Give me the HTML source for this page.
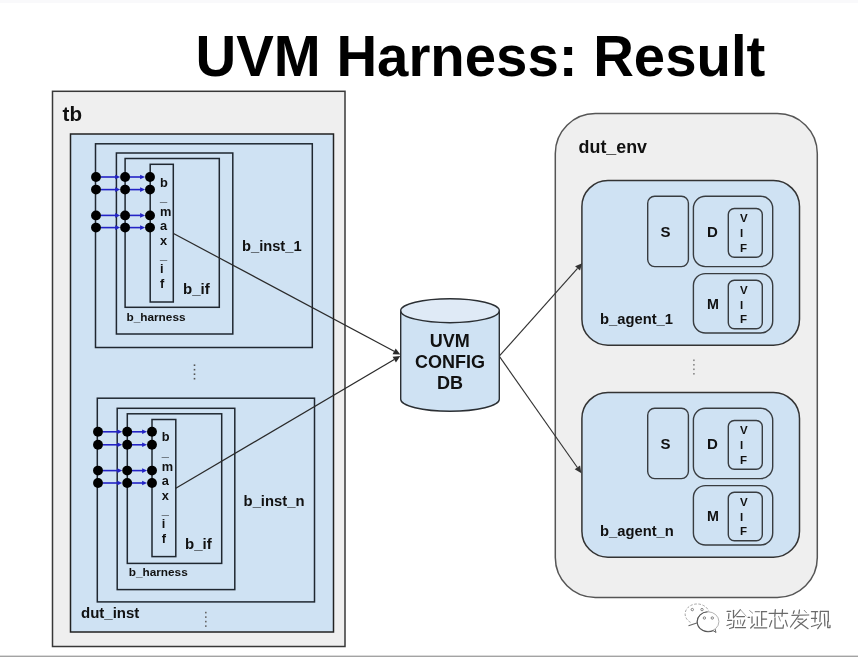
<!DOCTYPE html>
<html><head><meta charset="utf-8"><style>
html,body{margin:0;padding:0;background:#fff;}
body{width:858px;height:657px;overflow:hidden;position:relative;}
svg{position:absolute;left:0;top:0;will-change:transform;}
text{font-family:"Liberation Sans",sans-serif;}
</style></head><body>
<svg width="858" height="657" viewBox="0 0 858 657">
<rect x="0" y="0" width="858" height="3" fill="#f9f9fb"/>
<rect x="0" y="655.6" width="858" height="1.4" fill="#a3a3a3"/>
<text transform="translate(195.6,75.6) scale(1.0027,1.028)" x="0" y="0" font-size="56.2" font-weight="bold" fill="#000">UVM Harness: Result</text>
<rect x="52.50" y="91.30" width="292.50" height="555.20" rx="0" fill="#efefef" stroke="#383838" stroke-width="1.5"/>
<text x="62.60" y="121.40" font-size="20.6" text-anchor="start" font-weight="bold" fill="#111" >tb</text>
<rect x="70.50" y="134.00" width="263.00" height="498.00" rx="0" fill="#cfe2f3" stroke="#222" stroke-width="1.5"/>
<rect x="95.50" y="143.80" width="216.80" height="203.70" rx="0" fill="none" stroke="#1f2730" stroke-width="1.5"/>
<rect x="116.40" y="153.00" width="116.40" height="181.00" rx="0" fill="none" stroke="#1f2730" stroke-width="1.5"/>
<rect x="125.10" y="158.50" width="94.20" height="148.80" rx="0" fill="none" stroke="#1f2730" stroke-width="1.5"/>
<rect x="150.20" y="164.30" width="23.10" height="137.70" rx="0" fill="none" stroke="#1f2730" stroke-width="1.5"/>
<line x1="100.50" y1="177.00" x2="117.20" y2="177.00" stroke="#2323c6" stroke-width="1.6"/>
<path d="M120.20 177.00 L115.20 174.70 L115.20 179.30 Z" fill="#2323c6"/>
<line x1="129.60" y1="177.00" x2="142.10" y2="177.00" stroke="#2323c6" stroke-width="1.6"/>
<path d="M145.10 177.00 L140.10 174.70 L140.10 179.30 Z" fill="#2323c6"/>
<circle cx="96.00" cy="177.00" r="4.95" fill="#000"/>
<circle cx="125.10" cy="177.00" r="4.95" fill="#000"/>
<circle cx="150.00" cy="177.00" r="4.95" fill="#000"/>
<line x1="100.50" y1="189.60" x2="117.20" y2="189.60" stroke="#2323c6" stroke-width="1.6"/>
<path d="M120.20 189.60 L115.20 187.30 L115.20 191.90 Z" fill="#2323c6"/>
<line x1="129.60" y1="189.60" x2="142.10" y2="189.60" stroke="#2323c6" stroke-width="1.6"/>
<path d="M145.10 189.60 L140.10 187.30 L140.10 191.90 Z" fill="#2323c6"/>
<circle cx="96.00" cy="189.60" r="4.95" fill="#000"/>
<circle cx="125.10" cy="189.60" r="4.95" fill="#000"/>
<circle cx="150.00" cy="189.60" r="4.95" fill="#000"/>
<line x1="100.50" y1="215.40" x2="117.20" y2="215.40" stroke="#2323c6" stroke-width="1.6"/>
<path d="M120.20 215.40 L115.20 213.10 L115.20 217.70 Z" fill="#2323c6"/>
<line x1="129.60" y1="215.40" x2="142.10" y2="215.40" stroke="#2323c6" stroke-width="1.6"/>
<path d="M145.10 215.40 L140.10 213.10 L140.10 217.70 Z" fill="#2323c6"/>
<circle cx="96.00" cy="215.40" r="4.95" fill="#000"/>
<circle cx="125.10" cy="215.40" r="4.95" fill="#000"/>
<circle cx="150.00" cy="215.40" r="4.95" fill="#000"/>
<line x1="100.50" y1="227.60" x2="117.20" y2="227.60" stroke="#2323c6" stroke-width="1.6"/>
<path d="M120.20 227.60 L115.20 225.30 L115.20 229.90 Z" fill="#2323c6"/>
<line x1="129.60" y1="227.60" x2="142.10" y2="227.60" stroke="#2323c6" stroke-width="1.6"/>
<path d="M145.10 227.60 L140.10 225.30 L140.10 229.90 Z" fill="#2323c6"/>
<circle cx="96.00" cy="227.60" r="4.95" fill="#000"/>
<circle cx="125.10" cy="227.60" r="4.95" fill="#000"/>
<circle cx="150.00" cy="227.60" r="4.95" fill="#000"/>
<text x="159.90" y="186.50" font-size="12.8" text-anchor="start" font-weight="bold" fill="#111" >b</text>
<text x="159.90" y="200.80" font-size="12.8" text-anchor="start" font-weight="bold" fill="#111" >_</text>
<text x="159.90" y="215.70" font-size="12.8" text-anchor="start" font-weight="bold" fill="#111" >m</text>
<text x="159.90" y="230.20" font-size="12.8" text-anchor="start" font-weight="bold" fill="#111" >a</text>
<text x="159.90" y="244.70" font-size="12.8" text-anchor="start" font-weight="bold" fill="#111" >x</text>
<text x="159.90" y="259.30" font-size="12.8" text-anchor="start" font-weight="bold" fill="#111" >_</text>
<text x="159.90" y="272.80" font-size="12.8" text-anchor="start" font-weight="bold" fill="#111" >i</text>
<text x="159.90" y="287.80" font-size="12.8" text-anchor="start" font-weight="bold" fill="#111" >f</text>
<text x="183.00" y="293.50" font-size="15" text-anchor="start" font-weight="bold" fill="#111" >b_if</text>
<text x="126.50" y="321.00" font-size="11.8" text-anchor="start" font-weight="bold" fill="#111" >b_harness</text>
<rect x="97.30" y="398.20" width="217.20" height="203.70" rx="0" fill="none" stroke="#1f2730" stroke-width="1.5"/>
<rect x="117.20" y="408.30" width="117.60" height="181.30" rx="0" fill="none" stroke="#1f2730" stroke-width="1.5"/>
<rect x="127.30" y="413.80" width="94.40" height="149.60" rx="0" fill="none" stroke="#1f2730" stroke-width="1.5"/>
<rect x="152.00" y="419.50" width="23.80" height="137.10" rx="0" fill="none" stroke="#1f2730" stroke-width="1.5"/>
<line x1="102.50" y1="431.80" x2="119.30" y2="431.80" stroke="#2323c6" stroke-width="1.6"/>
<path d="M122.30 431.80 L117.30 429.50 L117.30 434.10 Z" fill="#2323c6"/>
<line x1="131.70" y1="431.80" x2="144.10" y2="431.80" stroke="#2323c6" stroke-width="1.6"/>
<path d="M147.10 431.80 L142.10 429.50 L142.10 434.10 Z" fill="#2323c6"/>
<circle cx="98.00" cy="431.80" r="4.95" fill="#000"/>
<circle cx="127.20" cy="431.80" r="4.95" fill="#000"/>
<circle cx="152.00" cy="431.80" r="4.95" fill="#000"/>
<line x1="102.50" y1="444.80" x2="119.30" y2="444.80" stroke="#2323c6" stroke-width="1.6"/>
<path d="M122.30 444.80 L117.30 442.50 L117.30 447.10 Z" fill="#2323c6"/>
<line x1="131.70" y1="444.80" x2="144.10" y2="444.80" stroke="#2323c6" stroke-width="1.6"/>
<path d="M147.10 444.80 L142.10 442.50 L142.10 447.10 Z" fill="#2323c6"/>
<circle cx="98.00" cy="444.80" r="4.95" fill="#000"/>
<circle cx="127.20" cy="444.80" r="4.95" fill="#000"/>
<circle cx="152.00" cy="444.80" r="4.95" fill="#000"/>
<line x1="102.50" y1="470.60" x2="119.30" y2="470.60" stroke="#2323c6" stroke-width="1.6"/>
<path d="M122.30 470.60 L117.30 468.30 L117.30 472.90 Z" fill="#2323c6"/>
<line x1="131.70" y1="470.60" x2="144.10" y2="470.60" stroke="#2323c6" stroke-width="1.6"/>
<path d="M147.10 470.60 L142.10 468.30 L142.10 472.90 Z" fill="#2323c6"/>
<circle cx="98.00" cy="470.60" r="4.95" fill="#000"/>
<circle cx="127.20" cy="470.60" r="4.95" fill="#000"/>
<circle cx="152.00" cy="470.60" r="4.95" fill="#000"/>
<line x1="102.50" y1="483.00" x2="119.30" y2="483.00" stroke="#2323c6" stroke-width="1.6"/>
<path d="M122.30 483.00 L117.30 480.70 L117.30 485.30 Z" fill="#2323c6"/>
<line x1="131.70" y1="483.00" x2="144.10" y2="483.00" stroke="#2323c6" stroke-width="1.6"/>
<path d="M147.10 483.00 L142.10 480.70 L142.10 485.30 Z" fill="#2323c6"/>
<circle cx="98.00" cy="483.00" r="4.95" fill="#000"/>
<circle cx="127.20" cy="483.00" r="4.95" fill="#000"/>
<circle cx="152.00" cy="483.00" r="4.95" fill="#000"/>
<text x="161.80" y="441.30" font-size="12.8" text-anchor="start" font-weight="bold" fill="#111" >b</text>
<text x="161.80" y="455.60" font-size="12.8" text-anchor="start" font-weight="bold" fill="#111" >_</text>
<text x="161.80" y="470.50" font-size="12.8" text-anchor="start" font-weight="bold" fill="#111" >m</text>
<text x="161.80" y="485.00" font-size="12.8" text-anchor="start" font-weight="bold" fill="#111" >a</text>
<text x="161.80" y="499.50" font-size="12.8" text-anchor="start" font-weight="bold" fill="#111" >x</text>
<text x="161.80" y="514.10" font-size="12.8" text-anchor="start" font-weight="bold" fill="#111" >_</text>
<text x="161.80" y="527.60" font-size="12.8" text-anchor="start" font-weight="bold" fill="#111" >i</text>
<text x="161.80" y="542.60" font-size="12.8" text-anchor="start" font-weight="bold" fill="#111" >f</text>
<text x="185.00" y="549.20" font-size="15" text-anchor="start" font-weight="bold" fill="#111" >b_if</text>
<text x="128.70" y="576.20" font-size="11.8" text-anchor="start" font-weight="bold" fill="#111" >b_harness</text>
<text x="242.00" y="250.60" font-size="14.7" text-anchor="start" font-weight="bold" fill="#111" >b_inst_1</text>
<text x="243.60" y="505.60" font-size="14.8" text-anchor="start" font-weight="bold" fill="#111" >b_inst_n</text>
<text x="81.00" y="618.20" font-size="15" text-anchor="start" font-weight="bold" fill="#111" >dut_inst</text>
<rect x="193.70" y="364.40" width="1.6" height="1.6" fill="#555"/>
<rect x="193.70" y="368.90" width="1.6" height="1.6" fill="#555"/>
<rect x="193.70" y="373.40" width="1.6" height="1.6" fill="#555"/>
<rect x="193.70" y="377.90" width="1.6" height="1.6" fill="#555"/>
<rect x="205.00" y="611.80" width="1.6" height="1.6" fill="#666"/>
<rect x="205.00" y="616.30" width="1.6" height="1.6" fill="#666"/>
<rect x="205.00" y="620.80" width="1.6" height="1.6" fill="#666"/>
<rect x="205.00" y="625.30" width="1.6" height="1.6" fill="#666"/>
<rect x="555.30" y="113.60" width="262.00" height="483.90" rx="40" fill="#efefef" stroke="#555" stroke-width="1.5"/>
<text x="578.60" y="153.20" font-size="17.85" text-anchor="start" font-weight="bold" fill="#111" >dut_env</text>
<rect x="581.90" y="180.50" width="217.60" height="164.70" rx="26" fill="#cfe2f3" stroke="#333" stroke-width="1.5"/>
<rect x="647.70" y="196.20" width="40.70" height="70.40" rx="7" fill="none" stroke="#383c40" stroke-width="1.4"/>
<rect x="693.40" y="196.20" width="79.30" height="70.40" rx="12" fill="none" stroke="#383c40" stroke-width="1.4"/>
<rect x="728.30" y="208.50" width="34.00" height="48.80" rx="6" fill="none" stroke="#383c40" stroke-width="1.4"/>
<rect x="693.40" y="273.60" width="79.30" height="59.40" rx="12" fill="none" stroke="#383c40" stroke-width="1.4"/>
<rect x="728.30" y="280.30" width="34.00" height="48.40" rx="6" fill="none" stroke="#383c40" stroke-width="1.4"/>
<text x="665.60" y="236.90" font-size="15" text-anchor="middle" font-weight="bold" fill="#111" >S</text>
<text x="712.30" y="236.90" font-size="15" text-anchor="middle" font-weight="bold" fill="#111" >D</text>
<text x="740.00" y="222.30" font-size="11.5" text-anchor="start" font-weight="bold" fill="#111" >V</text>
<text x="740.00" y="236.90" font-size="11.5" text-anchor="start" font-weight="bold" fill="#111" >I</text>
<text x="740.00" y="251.50" font-size="11.5" text-anchor="start" font-weight="bold" fill="#111" >F</text>
<text x="713.00" y="308.80" font-size="14.3" text-anchor="middle" font-weight="bold" fill="#111" >M</text>
<text x="740.00" y="294.10" font-size="11.5" text-anchor="start" font-weight="bold" fill="#111" >V</text>
<text x="740.00" y="308.70" font-size="11.5" text-anchor="start" font-weight="bold" fill="#111" >I</text>
<text x="740.00" y="323.30" font-size="11.5" text-anchor="start" font-weight="bold" fill="#111" >F</text>
<text x="600.00" y="323.50" font-size="14.75" text-anchor="start" font-weight="bold" fill="#111" >b_agent_1</text>
<rect x="581.90" y="392.50" width="217.60" height="164.70" rx="26" fill="#cfe2f3" stroke="#333" stroke-width="1.5"/>
<rect x="647.70" y="408.20" width="40.70" height="70.40" rx="7" fill="none" stroke="#383c40" stroke-width="1.4"/>
<rect x="693.40" y="408.20" width="79.30" height="70.40" rx="12" fill="none" stroke="#383c40" stroke-width="1.4"/>
<rect x="728.30" y="420.50" width="34.00" height="48.80" rx="6" fill="none" stroke="#383c40" stroke-width="1.4"/>
<rect x="693.40" y="485.60" width="79.30" height="59.40" rx="12" fill="none" stroke="#383c40" stroke-width="1.4"/>
<rect x="728.30" y="492.30" width="34.00" height="48.40" rx="6" fill="none" stroke="#383c40" stroke-width="1.4"/>
<text x="665.60" y="448.90" font-size="15" text-anchor="middle" font-weight="bold" fill="#111" >S</text>
<text x="712.30" y="448.90" font-size="15" text-anchor="middle" font-weight="bold" fill="#111" >D</text>
<text x="740.00" y="434.30" font-size="11.5" text-anchor="start" font-weight="bold" fill="#111" >V</text>
<text x="740.00" y="448.90" font-size="11.5" text-anchor="start" font-weight="bold" fill="#111" >I</text>
<text x="740.00" y="463.50" font-size="11.5" text-anchor="start" font-weight="bold" fill="#111" >F</text>
<text x="713.00" y="520.80" font-size="14.3" text-anchor="middle" font-weight="bold" fill="#111" >M</text>
<text x="740.00" y="506.10" font-size="11.5" text-anchor="start" font-weight="bold" fill="#111" >V</text>
<text x="740.00" y="520.70" font-size="11.5" text-anchor="start" font-weight="bold" fill="#111" >I</text>
<text x="740.00" y="535.30" font-size="11.5" text-anchor="start" font-weight="bold" fill="#111" >F</text>
<text x="600.00" y="535.50" font-size="14.75" text-anchor="start" font-weight="bold" fill="#111" >b_agent_n</text>
<rect x="693.10" y="359.50" width="1.6" height="1.6" fill="#888"/>
<rect x="693.10" y="364.00" width="1.6" height="1.6" fill="#888"/>
<rect x="693.10" y="368.50" width="1.6" height="1.6" fill="#888"/>
<rect x="693.10" y="373.00" width="1.6" height="1.6" fill="#888"/>
<line x1="173.50" y1="233.50" x2="394.13" y2="351.30" stroke="#2a2a2a" stroke-width="1.2"/>
<path d="M400.30 354.60 L392.57 354.21 L395.68 348.39 Z" fill="#2a2a2a"/>
<line x1="175.80" y1="488.30" x2="394.27" y2="359.55" stroke="#2a2a2a" stroke-width="1.2"/>
<path d="M400.30 356.00 L395.94 362.40 L392.59 356.71 Z" fill="#2a2a2a"/>
<line x1="499.20" y1="356.20" x2="577.54" y2="268.42" stroke="#333" stroke-width="1.15"/>
<path d="M582.20 263.20 L580.00 270.62 L575.08 266.23 Z" fill="#333"/>
<line x1="499.20" y1="356.20" x2="577.38" y2="467.47" stroke="#333" stroke-width="1.15"/>
<path d="M581.40 473.20 L574.68 469.37 L580.08 465.58 Z" fill="#333"/>
<path d="M400.7 310.7 L400.7 399.3 A49.3 12 0 0 0 499.3 399.3 L499.3 310.7" fill="#cfe2f3" stroke="#2b2f33" stroke-width="1.4"/>
<ellipse cx="450" cy="310.7" rx="49.3" ry="12" fill="#dfeaf6" stroke="#2b2f33" stroke-width="1.4"/>
<text x="449.80" y="346.90" font-size="18" text-anchor="middle" font-weight="bold" fill="#111" >UVM</text>
<text x="450.10" y="368.20" font-size="18" text-anchor="middle" font-weight="bold" fill="#111" >CONFIG</text>
<text x="450.10" y="389.00" font-size="18" text-anchor="middle" font-weight="bold" fill="#111" >DB</text>
<path d="M727.1 611.4 L730.7 611.4" fill="none" stroke="#6a6a6a" stroke-width="1.25" stroke-linecap="round" stroke-linejoin="round"/>
<path d="M733.5 610.3 L733.5 617.8" fill="none" stroke="#6a6a6a" stroke-width="1.25" stroke-linecap="round" stroke-linejoin="round"/>
<path d="M728.9 613.7 L728.6 618.3" fill="none" stroke="#6a6a6a" stroke-width="1.25" stroke-linecap="round" stroke-linejoin="round"/>
<path d="M727.6 620.4 L731.7 620.4" fill="none" stroke="#6a6a6a" stroke-width="1.25" stroke-linecap="round" stroke-linejoin="round"/>
<path d="M727.0 625.5 L731.2 624.0" fill="none" stroke="#6a6a6a" stroke-width="1.25" stroke-linecap="round" stroke-linejoin="round"/>
<path d="M734.0 620.4 L733.4 627.4 L729.6 628.5" fill="none" stroke="#6a6a6a" stroke-width="1.25" stroke-linecap="round" stroke-linejoin="round"/>
<path d="M740.4 609.6 L734.3 616.8" fill="none" stroke="#6a6a6a" stroke-width="1.1" stroke-linecap="round" stroke-linejoin="round"/>
<path d="M740.4 609.6 L746.0 616.0" fill="none" stroke="#999" stroke-width="0.8" stroke-linecap="round" stroke-linejoin="round"/>
<path d="M736.8 616.5 L744.5 616.5" fill="none" stroke="#6a6a6a" stroke-width="1.25" stroke-linecap="round" stroke-linejoin="round"/>
<path d="M737.6 620.4 L737.8 624.2" fill="none" stroke="#6a6a6a" stroke-width="1.0" stroke-linecap="round" stroke-linejoin="round"/>
<path d="M740.4 619.9 L740.7 624.0" fill="none" stroke="#888" stroke-width="0.9" stroke-linecap="round" stroke-linejoin="round"/>
<path d="M744.8 620.1 L742.5 625.5" fill="none" stroke="#6a6a6a" stroke-width="1.25" stroke-linecap="round" stroke-linejoin="round"/>
<path d="M735.3 627.6 L745.5 627.6" fill="none" stroke="#6a6a6a" stroke-width="1.25" stroke-linecap="round" stroke-linejoin="round"/>
<path d="M749.6 610.6 L752.7 613.2" fill="none" stroke="#888" stroke-width="0.9" stroke-linecap="round" stroke-linejoin="round"/>
<path d="M748.1 617.3 L749.6 617.3" fill="none" stroke="#6a6a6a" stroke-width="1.25" stroke-linecap="round" stroke-linejoin="round"/>
<path d="M752.0 616.8 L752.0 623.0" fill="none" stroke="#6a6a6a" stroke-width="1.25" stroke-linecap="round" stroke-linejoin="round"/>
<path d="M750.7 628.0 L754.5 624.2" fill="none" stroke="#6a6a6a" stroke-width="1.25" stroke-linecap="round" stroke-linejoin="round"/>
<path d="M755.3 611.7 L759.4 611.7" fill="none" stroke="#888" stroke-width="1.25" stroke-linecap="round" stroke-linejoin="round"/>
<path d="M761.4 611.7 L766.6 611.7" fill="none" stroke="#6a6a6a" stroke-width="1.25" stroke-linecap="round" stroke-linejoin="round"/>
<path d="M761.7 611.7 L761.7 625.5" fill="none" stroke="#6a6a6a" stroke-width="1.25" stroke-linecap="round" stroke-linejoin="round"/>
<path d="M761.9 619.1 L766.6 619.1" fill="none" stroke="#6a6a6a" stroke-width="1.25" stroke-linecap="round" stroke-linejoin="round"/>
<path d="M757.3 616.8 L757.3 625.5" fill="none" stroke="#6a6a6a" stroke-width="1.25" stroke-linecap="round" stroke-linejoin="round"/>
<path d="M754.3 627.8 L766.8 627.8" fill="none" stroke="#6a6a6a" stroke-width="1.25" stroke-linecap="round" stroke-linejoin="round"/>
<path d="M769.1 613.3 L787.6 613.3" fill="none" stroke="#6a6a6a" stroke-width="1.25" stroke-linecap="round" stroke-linejoin="round"/>
<path d="M775.3 609.7 L774.8 616.3" fill="none" stroke="#6a6a6a" stroke-width="1.25" stroke-linecap="round" stroke-linejoin="round"/>
<path d="M782.5 609.7 L782.0 616.3" fill="none" stroke="#6a6a6a" stroke-width="1.25" stroke-linecap="round" stroke-linejoin="round"/>
<path d="M771.7 620.7 L769.6 626.6" fill="none" stroke="#6a6a6a" stroke-width="1.25" stroke-linecap="round" stroke-linejoin="round"/>
<path d="M775.0 617.9 L775.0 628.1 L783.0 628.1 L783.5 625.0" fill="none" stroke="#6a6a6a" stroke-width="1.25" stroke-linecap="round" stroke-linejoin="round"/>
<path d="M778.6 616.3 L780.4 621.0" fill="none" stroke="#888" stroke-width="1.0" stroke-linecap="round" stroke-linejoin="round"/>
<path d="M785.5 620.4 L787.3 626.1" fill="none" stroke="#6a6a6a" stroke-width="1.25" stroke-linecap="round" stroke-linejoin="round"/>
<path d="M791.9 615.3 L808.7 615.0" fill="none" stroke="#6a6a6a" stroke-width="1.25" stroke-linecap="round" stroke-linejoin="round"/>
<path d="M794.2 610.8 L793.3 613.3" fill="none" stroke="#6a6a6a" stroke-width="1.25" stroke-linecap="round" stroke-linejoin="round"/>
<path d="M799.5 610.0 L798.9 613.3" fill="none" stroke="#6a6a6a" stroke-width="1.25" stroke-linecap="round" stroke-linejoin="round"/>
<path d="M804.2 610.3 L806.5 612.8" fill="none" stroke="#888" stroke-width="1.0" stroke-linecap="round" stroke-linejoin="round"/>
<path d="M798.6 615.9 L790.5 627.0" fill="none" stroke="#6a6a6a" stroke-width="1.25" stroke-linecap="round" stroke-linejoin="round"/>
<path d="M798.0 619.2 L802.8 619.2" fill="none" stroke="#6a6a6a" stroke-width="1.25" stroke-linecap="round" stroke-linejoin="round"/>
<path d="M806.5 619.2 L794.7 628.7" fill="none" stroke="#6a6a6a" stroke-width="1.25" stroke-linecap="round" stroke-linejoin="round"/>
<path d="M798.0 621.5 L808.1 628.7" fill="none" stroke="#6a6a6a" stroke-width="1.25" stroke-linecap="round" stroke-linejoin="round"/>
<path d="M811.5 611.7 L817.6 611.7" fill="none" stroke="#6a6a6a" stroke-width="1.25" stroke-linecap="round" stroke-linejoin="round"/>
<path d="M815.4 612.0 L814.9 622.0" fill="none" stroke="#6a6a6a" stroke-width="1.25" stroke-linecap="round" stroke-linejoin="round"/>
<path d="M811.5 618.4 L816.5 618.4" fill="none" stroke="#6a6a6a" stroke-width="1.25" stroke-linecap="round" stroke-linejoin="round"/>
<path d="M811.5 626.5 L818.2 624.5" fill="none" stroke="#6a6a6a" stroke-width="1.25" stroke-linecap="round" stroke-linejoin="round"/>
<path d="M820.4 611.4 L828.3 611.4" fill="none" stroke="#6a6a6a" stroke-width="1.25" stroke-linecap="round" stroke-linejoin="round"/>
<path d="M820.4 611.4 L819.9 621.5" fill="none" stroke="#6a6a6a" stroke-width="1.25" stroke-linecap="round" stroke-linejoin="round"/>
<path d="M828.3 611.4 L828.3 621.5" fill="none" stroke="#6a6a6a" stroke-width="1.25" stroke-linecap="round" stroke-linejoin="round"/>
<path d="M824.4 614.2 L824.9 625.9" fill="none" stroke="#6a6a6a" stroke-width="1.25" stroke-linecap="round" stroke-linejoin="round"/>
<path d="M821.6 623.1 L817.7 628.7" fill="none" stroke="#6a6a6a" stroke-width="1.25" stroke-linecap="round" stroke-linejoin="round"/>
<path d="M827.7 621.5 L827.7 627.6 L830.0 627.6 L830.0 625.4" fill="none" stroke="#6a6a6a" stroke-width="1.25" stroke-linecap="round" stroke-linejoin="round"/>
<path d="M690.5 622.3 A12 10 0 1 1 708.8 611.6" fill="#fff" stroke="#999" stroke-width="0.9" stroke-dasharray="2.5 1.6"/>
<ellipse cx="708" cy="621.6" rx="10.9" ry="9.8" fill="#fff" stroke="#aaa" stroke-width="0.9"/>
<path d="M707.5 611.8 A10.9 9.8 0 0 0 697.2 621.6 A10.9 9.8 0 0 0 713.5 630.4" fill="none" stroke="#555" stroke-width="1.1"/>
<path d="M713 630.5 L716 632.5 L715 629" fill="#fff" stroke="#666" stroke-width="1"/>
<path d="M688.5 625.8 L697.5 622.8" stroke="#666" stroke-width="1.1"/>
<circle cx="692.3" cy="609.6" r="1.2" fill="none" stroke="#777" stroke-width="0.9"/>
<circle cx="702" cy="609.6" r="1.2" fill="none" stroke="#777" stroke-width="0.9"/>
<circle cx="704.4" cy="618" r="1.2" fill="none" stroke="#777" stroke-width="0.9"/>
<circle cx="712.3" cy="618" r="1.2" fill="none" stroke="#777" stroke-width="0.9"/>
</svg>
</body></html>
